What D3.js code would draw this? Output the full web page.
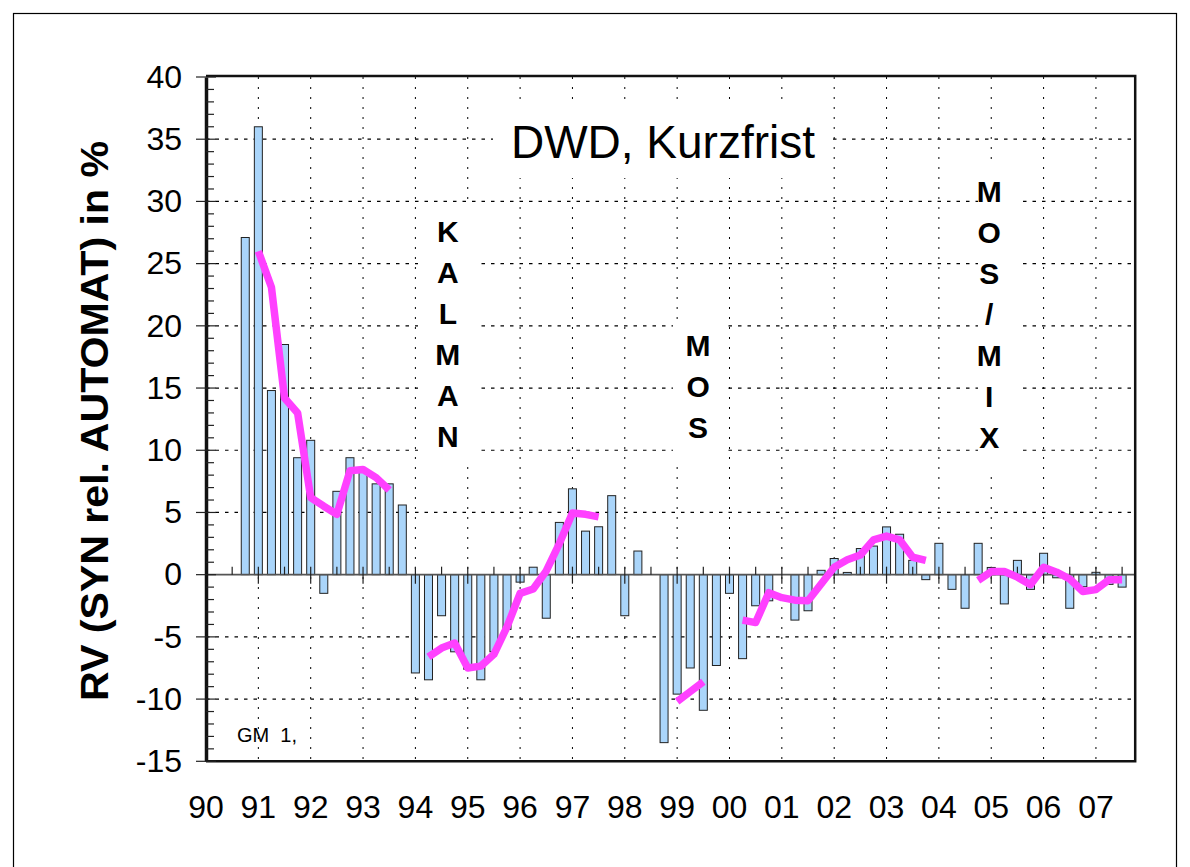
<!DOCTYPE html>
<html>
<head>
<meta charset="utf-8">
<script src="https://cdn.jsdelivr.net/npm/d3@7/dist/d3.min.js"></script>
<style>
  body { margin: 0; background: #fff; }
  text { font-family: "Liberation Sans", Arial, sans-serif; }
</style>
</head>
<body>
<div id="chart"></div>
<script>
// quarterly values, first bar at 1990.75
let startYear = 1990.75
let rvValues = [
  27.1, 36.0, 14.8, 18.5, 9.4, 10.8, -1.5, 6.7, 9.4, 8.3, 7.3, 7.3, 5.6,
  -7.9, -8.45, -3.3, -6.2, -7.6, -8.45, -6.2, -4.4, -0.6, 0.6, -3.5, 4.2, 6.9, 3.5, 3.85, 6.35,
  -3.3, 1.9, null, -13.5, -9.6, -7.5, -10.9, -7.3, -1.5, -6.75, -2.5, -2.1, null,
  -3.65, -2.9, 0.35, 1.3, 0.18, 2.1, 2.3, 3.84, 3.25, 1.15, -0.4, 2.52, -1.18, -2.7,
  2.52, 0.58, -2.35, 1.15, -1.18, 1.72, -0.25, -2.7, -0.97, 0.19, -0.78, -1.0
]
// smoothed curve (magenta), same quarters, gaps = null
let smoothValues = [
  null, 26.0, 23.1, 14.2, 13.0, 6.2, 5.5, 4.85, 8.35, 8.45, 7.8, 6.8, null,
  null, -6.6, -5.9, -5.5, -7.5, -7.35, -6.4, -4.2, -1.5, -1.15, 0.3, 2.5, 4.95, 4.85, 4.65, null,
  null, null, null, null, -10.2, -9.4, -8.6, null, null, -3.65, -3.85, -1.45, -1.85,
  -2.05, -2.1, -0.75, 0.6, 1.2, 1.58, 2.8, 3.1, 2.8, 1.4, 1.15, null, null, null,
  -0.45, 0.25, 0.25, -0.2, -0.8, 0.6, 0.2, -0.35, -1.35, -1.2, -0.4, -0.4
]
let yearTicks = d3.range(1990, 2008)
let yearLabels = ["90","91","92","93","94","95","96","97","98","99","00","01","02","03","04","05","06","07"]
let yTicks = [-15, -10, -5, 0, 5, 10, 15, 20, 25, 30, 35, 40]
let methodLabels = [
  { letters: ["K","A","L","M","A","N"], year: 1994.62, first: 242 },
  { letters: ["M","O","S"], year: 1999.4, first: 356 },
  { letters: ["M","O","S","/","M","I","X"], year: 2004.96, first: 202 }
]

let data = rvValues.map((v, i) => ({ t: startYear + i / 4, v: v, s: smoothValues[i] }))

let W = 1190, H = 867
let pLeft = 206, pRight = 1135.2, pTop = 77, pBottom = 761.3

let svg = d3.select("#chart").append("svg")
  .attr("width", W).attr("height", H)

svg.append("rect").attr("width", W).attr("height", H).attr("fill", "#fff")
// outer frame (runs off the bottom of the page)
svg.append("rect")
  .attr("x", 13.5).attr("y", 13.5).attr("width", 1163).attr("height", 870)
  .attr("fill", "none").attr("stroke", "#000").attr("stroke-width", 1.2)

let x = d3.scaleLinear().domain([1990, 2007.75]).range([pLeft, pRight])
let y = d3.scaleLinear().domain([-15, 40]).range([pBottom, pTop])

// grid
let grid = svg.append("g")
grid.selectAll(".hg")
  .data(yTicks.filter(d => d > -15 && d < 40 && d != 0))
  .enter().append("line")
  .attr("x1", pLeft).attr("x2", pRight)
  .attr("y1", d => y(d)).attr("y2", d => y(d))
  .attr("stroke", "#000").attr("stroke-width", 1.2)
  .attr("stroke-dasharray", "3.5,6")
grid.selectAll(".vg")
  .data(yearTicks.filter(d => d > 1990))
  .enter().append("line")
  .attr("x1", d => x(d)).attr("x2", d => x(d))
  .attr("y1", pTop).attr("y2", pBottom)
  .attr("stroke", "#000").attr("stroke-width", 1)
  .attr("stroke-dasharray", "2,8")

// white boxes behind the texts
let boxes = [[493, 106, 340, 72], [418, 204, 59, 258], [673, 322, 50, 138], [978, 166, 40, 306]]
svg.selectAll(".box").data(boxes).enter().append("rect")
  .attr("x", d => d[0]).attr("y", d => d[1]).attr("width", d => d[2]).attr("height", d => d[3])
  .attr("fill", "#fff")

// bars
let bw = 8
svg.selectAll(".bar")
  .data(data.filter(d => d.v !== null))
  .enter().append("rect")
  .attr("x", d => x(d.t) - bw / 2)
  .attr("y", d => y(Math.max(0, d.v)))
  .attr("width", bw)
  .attr("height", d => Math.abs(y(d.v) - y(0)))
  .attr("fill", "#aad5fa")
  .attr("stroke", "#222")
  .attr("stroke-width", 1)

// zero line with year / half-year ticks
svg.append("line")
  .attr("x1", pLeft).attr("x2", pRight).attr("y1", y(0)).attr("y2", y(0))
  .attr("stroke", "#555").attr("stroke-width", 1.8)
svg.selectAll(".zt")
  .data(d3.range(1990.5, 2007.75, 0.5))
  .enter().append("line")
  .attr("x1", d => x(d)).attr("x2", d => x(d))
  .attr("y1", d => d % 1 == 0 ? y(0) + 9 : y(0))
  .attr("y2", d => y(0) - 8)
  .attr("stroke", "#222").attr("stroke-width", 1.2)

// smoothed line
let line = d3.line()
  .defined(d => d.s !== null)
  .x(d => x(d.t))
  .y(d => y(d.s))
svg.append("path")
  .datum(data)
  .attr("d", line)
  .attr("fill", "none")
  .attr("stroke", "#ff40ff")
  .attr("stroke-width", 7.5)
  .attr("stroke-linejoin", "round")

// frame: top, right, bottom
svg.append("path")
  .attr("d", `M${pLeft},${pTop - 1}H${pRight}V${pBottom}H${pLeft}`)
  .attr("fill", "none").attr("stroke", "#111").attr("stroke-width", 2.5)

// y axis
let yAxisCall = d3.axisLeft(y).tickValues(yTicks).tickSize(0).tickPadding(24)
  .tickFormat(d => String(d))
let yAxisGroup = svg.append("g")
  .attr("transform", `translate(${pLeft}, 0)`)
  .call(yAxisCall)
yAxisGroup.select(".domain").attr("stroke", "#111").attr("stroke-width", 3.5)
yAxisGroup.selectAll("text")
  .attr("font-size", "32px").attr("fill", "#000")
  .attr("font-family", "Liberation Sans, Arial, sans-serif")
// major / minor ticks
svg.selectAll(".ymin")
  .data(d3.range(-15, 41, 1))
  .enter().append("line")
  .attr("x1", d => d % 5 == 0 ? pLeft - 10 : pLeft)
  .attr("x2", d => d % 5 == 0 ? pLeft + 10 : pLeft + 8)
  .attr("y1", d => y(d)).attr("y2", d => y(d))
  .attr("stroke", "#222").attr("stroke-width", 1.2)

// x labels
svg.selectAll(".xl")
  .data(yearTicks)
  .enter().append("text")
  .attr("x", d => x(d))
  .attr("y", 818)
  .attr("text-anchor", "middle")
  .attr("font-size", "32px")
  .text((d, i) => yearLabels[i])

// y label
svg.append("text")
  .attr("transform", "translate(108, 421) rotate(-90)")
  .attr("text-anchor", "middle")
  .attr("font-size", "38px")
  .attr("font-weight", "bold")
  .attr("textLength", 560)
  .attr("lengthAdjust", "spacingAndGlyphs")
  .text("RV (SYN rel. AUTOMAT) in %")

// title
svg.append("text")
  .attr("x", 663).attr("y", 158)
  .attr("text-anchor", "middle")
  .attr("font-size", "46px")
  .text("DWD, Kurzfrist")

// method labels, stacked letters
methodLabels.forEach(function(m){
  svg.selectAll(null)
    .data(m.letters)
    .enter().append("text")
    .attr("x", x(m.year))
    .attr("y", (d, i) => m.first + i * 41)
    .attr("text-anchor", "middle")
    .attr("font-size", "30px")
    .attr("font-weight", "bold")
    .text(d => d)
})

svg.append("text")
  .attr("x", 237).attr("y", 742)
  .attr("font-size", "20px")
  .style("white-space", "pre")
  .text("GM  1,")
</script>
</body>
</html>
